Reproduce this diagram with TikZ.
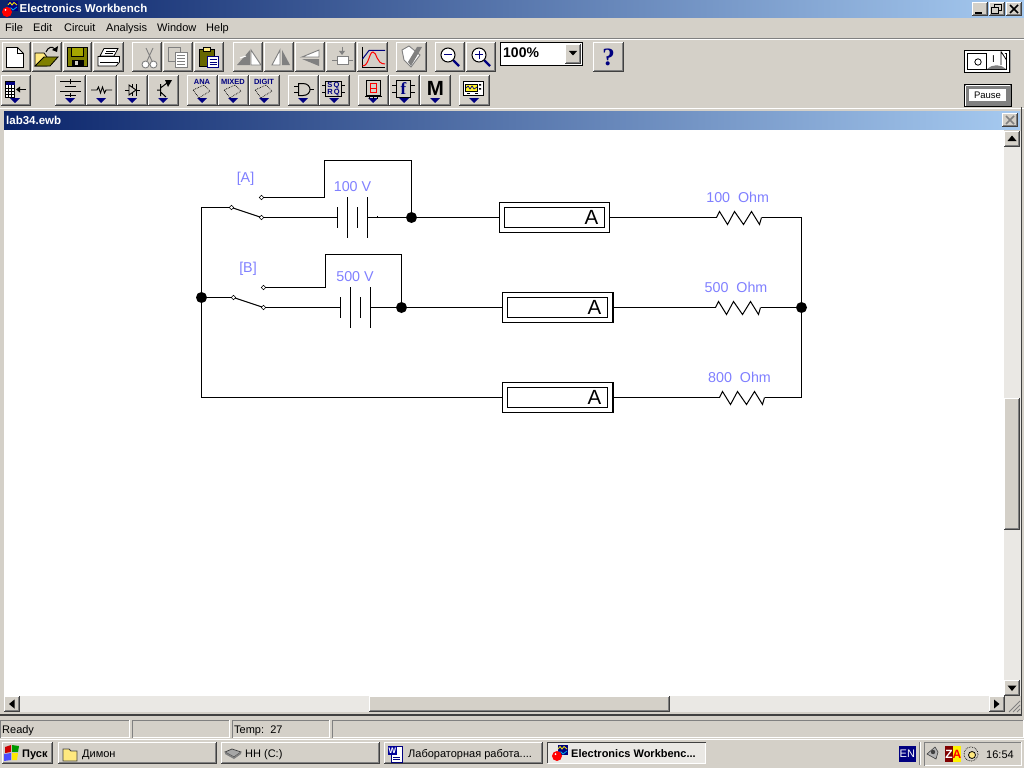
\documentclass[tikz,border=0pt]{standalone}
\usepackage{fontspec}
\setmainfont{Liberation Sans}
\newfontfamily\uiserif{Liberation Serif}
\usetikzlibrary{shapes.geometric}
\definecolor{uibg}{HTML}{D4D0C8}
\definecolor{uidark}{HTML}{404040}
\definecolor{uigray}{HTML}{808080}
\definecolor{uitrack}{HTML}{EAE8E4}
\definecolor{barL}{HTML}{0A246A}
\definecolor{barR}{HTML}{A6CAF0}
\definecolor{labelblue}{HTML}{8080FF}
\definecolor{uinavy}{HTML}{000080}
\definecolor{uiolive}{HTML}{808000}
\definecolor{uiyellow}{HTML}{FFE97F}
\tikzset{
  uitext/.style={inner sep=0pt,anchor=base west,text=black,font=\fontsize{11}{13}\selectfont},
  uibold/.style={uitext,font=\fontsize{11}{13}\selectfont\bfseries},
  titletext/.style={inner sep=0pt,anchor=base west,text=white,font=\fontsize{11.5}{13}\selectfont\bfseries},
  cirlabel/.style={inner sep=0pt,text=labelblue,font=\fontsize{14.3}{16}\selectfont},
  wire/.style={draw=black,line width=1pt},
  junction/.style={circle,fill=black,draw=none,minimum size=11pt,inner sep=0pt,outer sep=0pt},
  contact/.style={diamond,fill=white,draw=black,line width=.6pt,minimum size=4.5pt,inner sep=0pt,outer sep=0pt},
  ammeter/.style={rectangle,draw=black,fill=white,line width=1pt,minimum width=110pt,minimum height=30pt,inner sep=0pt,outer sep=0pt},
  iconline/.style={draw=black,line width=.8pt},
  greyicon/.style={draw=uigray,line width=.9pt},
  smallnavy/.style={inner sep=0pt,text=uinavy,font=\fontsize{7.5}{8}\selectfont\bfseries},
}
\newcommand{\uibtn}[4]{%
  \fill[uibg] (#1,#2) rectangle (#3,#4);
  \draw[white,line width=1pt] ({#1+.5},#4) -- ({#1+.5},{#2+.5}) -- (#3,{#2+.5});
  \draw[uidark,line width=1pt] (#1,{#4-.5}) -- ({#3-.5},{#4-.5}) -- ({#3-.5},#2);
  \draw[uigray,line width=1pt] ({#1+1},{#4-1.5}) -- ({#3-1.5},{#4-1.5}) -- ({#3-1.5},{#2+1});
}
\newcommand{\uipanel}[4]{%
  \draw[uigray,line width=1pt] ({#1+.5},{#4-.5}) -- ({#1+.5},{#2+.5}) -- ({#3-.5},{#2+.5});
  \draw[white,line width=1pt] ({#1+.5},{#4-.5}) -- ({#3-.5},{#4-.5}) -- ({#3-.5},#2);
}
\newcommand{\droptri}[1]{\fill[uinavy] ({#1-5},98) -- ({#1+5},98) -- (#1,103) -- cycle;}
\newcommand{\ewicon}[2]{%
  \begin{scope}[shift={(#1,#2)}]
    \fill[uinavy] (6,0) rectangle (16,10);
    \draw[yellow,line width=.8pt] (6,4) -- (8,1.5) -- (10,4) -- (12,1.5) -- (15,4);
    \draw[cyan,line width=.8pt] (6,7) -- (9,7) -- (11,9) -- (15,6);
    \fill[red] (5,11) circle (5);
    \fill[white] (3.5,9) circle (1);
  \end{scope}
}
\newcommand{\zigzag}[1]{\draw[wire] (#1) -- ++(3,-6) -- ++(8,13) -- ++(7,-13) -- ++(9,13) -- ++(8,-13) -- ++(8,13) -- ++(2,-7);}
\newcommand{\lens}[3]{%
  \draw[uinavy,line width=2.4pt] ({#1+5},{#2+5}) -- ({#1+11},{#2+11});
  \draw[black,line width=1pt,fill=white] (#1,#2) circle (7);
  #3
}
\begin{document}
\begin{tikzpicture}[x=1pt,y=-1pt]
\useasboundingbox (0,0) rectangle (1024,768);
\fill[uibg] (0,0) rectangle (1024,768);
% ---- title bar
\shade[left color=barL,right color=barR] (0,0) rectangle (1024,18);
\ewicon{2}{1}
\node[titletext] (apptitle) at (19.5,13) {Electronics Workbench};
\uibtn{972}{2}{988}{16}
\uibtn{989}{2}{1005}{16}
\uibtn{1006}{2}{1022}{16}
\fill[black] (975,12) rectangle (982,14);
\draw[black,line width=1pt] (994.5,4.5) rectangle (1001.5,10.5);
\fill[uibg,draw=black,line width=1pt] (991.5,7.5) rectangle (998.5,13.5);
\draw[black,line width=1.6pt] (1010,5) -- (1018,13) (1018,5) -- (1010,13);
% ---- menu
\node[uitext] (mfile) at (5,32) {File};
\node[uitext] (medit) at (33,32) {Edit};
\node[uitext] (mcirc) at (64,32) {Circuit};
\node[uitext] (manal) at (106,32) {Analysis};
\node[uitext] (mwin) at (157,32) {Window};
\node[uitext] (mhelp) at (206,32) {Help};
\draw[uigray,line width=1pt] (0,38.5) -- (1024,38.5);
\draw[white,line width=1pt] (0,39.5) -- (1024,39.5);
% ---- toolbar row 1
\foreach \a/\b in {2/31,32/62,63/92,93/124,132/162,163/193,194/224,233/263,264/294,295/325,326/356,357/388,396/427,435/465,466/496,593/624}{\uibtn{\a}{42}{\b}{72}}
% new
\draw[iconline,fill=white] (6.5,47.5) -- (17.5,47.5) -- (23.5,53.5) -- (23.5,67.5) -- (6.5,67.5) -- cycle;
\draw[iconline] (17.5,47.5) -- (17.5,53.5) -- (23.5,53.5);
% open
\fill[uiyellow,draw=black,line width=.8pt] (35,66) -- (35,53) -- (44,53) -- (47,57) -- (47,66) -- cycle;
\fill[uiolive,draw=black,line width=.8pt] (35,66) -- (44,57) -- (58,57) -- (50,66) -- cycle;
\draw[black,line width=1pt] (46,52) .. controls (48,47) and (52,46) .. (55,49);
\fill[black] (52,50) -- (58,46) -- (57,52) -- cycle;
% save
\fill[uiolive,draw=black,line width=1pt] (67.5,47.5) rectangle (87.5,66.5);
\fill[uiolive!70!yellow,draw=black,line width=.7pt] (71.5,47.5) rectangle (83.5,56.5);
\fill[black] (72,60) rectangle (84,66);
\fill[uibg] (75,61) rectangle (78,65);
% print
\fill[white,draw=black,line width=.8pt] (104,48.5) -- (118,48.5) -- (114,56) -- (100,56) -- cycle;
\fill[white,draw=black,line width=.8pt] (98,56.5) -- (119.5,56.5) -- (119.5,62) -- (116,66) -- (98,66) -- cycle;
\draw[black,line width=.7pt] (106,51) -- (115,51) (105,53.5) -- (113,53.5) (100,62) -- (118,62);
% cut
\draw[greyicon] (146,48) -- (152,61) (153,48) -- (147,61);
\draw[greyicon,fill=white] (145.5,64.5) circle (3.5) (153.5,64.5) circle (3.5);
% copy
\draw[greyicon,fill=uibg] (168,47.5) rectangle (180,61);
\draw[greyicon,fill=white] (175,52.5) rectangle (187,67);
\draw[uigray,line width=.7pt] (177,55.5) -- (185,55.5) (177,58.5) -- (185,58.5) (177,61.5) -- (185,61.5) (177,64.5) -- (185,64.5);
% paste
\fill[uiolive!80!black,draw=black,line width=.8pt] (199.5,49.5) rectangle (214.5,66);
\fill[uiyellow,draw=black,line width=.7pt] (203.5,47.5) rectangle (210.5,51.5);
\fill[white,draw=uinavy,line width=.8pt] (207.5,56.5) rectangle (218.5,67.5);
\draw[uinavy,line width=.7pt] (209.5,59.5) -- (216.5,59.5) (209.5,62) -- (216.5,62) (209.5,64.5) -- (216.5,64.5);
% rotate
\fill[uigray] (237,65) -- (250,65) -- (250,50) -- cycle;
\draw[greyicon,fill=white] (251,50) -- (251,65) -- (261,65) -- cycle;
\draw[white,line width=1pt] (240,58) -- (246,56);
% flip h
\draw[greyicon,fill=white] (280,50) -- (280,65) -- (272,65) -- cycle;
\fill[uigray] (282,50) -- (282,65) -- (290,65) -- cycle;
% flip v
\draw[greyicon,fill=white] (319,50) -- (319,57) -- (302,57) -- cycle;
\fill[uigray] (319,59) -- (319,66) -- (302,59) -- cycle;
% subcircuit
\draw[greyicon,fill=white] (337.5,56) rectangle (348,64);
\draw[greyicon] (332,60) -- (337,60) (348,60) -- (353,60) (342,47) -- (342,54);
\fill[uigray] (339,51) -- (345,51) -- (342,55) -- cycle;
% graph
\draw[black,line width=1pt] (362.5,47) -- (362.5,67.5) -- (385,67.5);
\draw[uinavy,line width=1pt] (362.5,59) -- (369,50.5) -- (385,50.5);
\draw[red,line width=1pt] (362.5,66) .. controls (369,66) and (369,52) .. (373,52) .. controls (377,52) and (376,64) .. (385,64);
% check
\draw[greyicon,fill=white] (402,50) -- (409,46) -- (420,55) -- (411,67) -- (404,60) -- cycle;
\fill[uigray] (408,62) -- (417,47) -- (422,47) -- (411,66) -- cycle;
% zoom
\lens{448}{55}{\draw[uinavy,line width=1pt] (444,55) -- (452,55);}
\lens{479}{55}{\draw[uinavy,line width=1pt] (475,55) -- (483,55) (479,51) -- (479,59);}
% combo
\fill[white,draw=black,line width=1pt] (500.5,42.5) rectangle (582.5,65.5);
\node[uitext,font=\fontsize{14}{16}\selectfont\bfseries] (zoomtxt) at (503,58) {100\%};
\uibtn{565}{44}{581}{64}
\fill[black] (569,51) -- (577,51) -- (573,55.5) -- cycle;
% help
\node[inner sep=0pt,text=uinavy,font=\uiserif\fontsize{25}{27}\selectfont\bfseries] (helpq) at (608.5,57) {?};
% ---- toolbar row 2
\foreach \a/\b in {1/31,55/86,86/117,117/148,148/179,187/218,218/249,249/280,288/319,319/350,358/389,389/420,420/451,459/490}{\uibtn{\a}{75}{\b}{106}}
\foreach \c in {15,70,101,132,163,202,233,264,303,334,373,404,435,474}{\droptri{\c}}
% parts bin
\fill[white,draw=black,line width=.8pt] (5.5,81.5) rectangle (14.5,97.5);
\fill[uinavy] (5.5,81.5) rectangle (14.5,85);
\draw[black,line width=.6pt] (8.5,85) -- (8.5,97.5) (11.5,85) -- (11.5,97.5) (5.5,88) -- (14.5,88) (5.5,91) -- (14.5,91) (5.5,94) -- (14.5,94);
\draw[black,line width=1pt] (17,89.5) -- (26,89.5);
\fill[black] (16,89.5) -- (20,86.5) -- (20,92.5) -- cycle;
% sources
\draw[black,line width=1pt] (70,79) -- (70,84) (70,93) -- (70,97) (60,81.5) -- (81,81.5) (65,86.5) -- (76,86.5) (60,91.5) -- (81,91.5) (65,95.5) -- (76,95.5);
% basic
\draw[black,line width=.9pt] (91,90) -- (97,90) -- (98.5,87) -- (100.5,93) -- (102.5,87) -- (104.5,93) -- (106,90) -- (112,90);
% diodes
\draw[black,line width=.9pt] (132.5,84) -- (132.5,96) (125,90) -- (129,90) (136,90) -- (140,90) (136.5,84) -- (136.5,96);
\draw[black,line width=.9pt,fill=uibg] (129,85) -- (136,90) -- (129,95) -- cycle;
% transistors
\draw[black,line width=1pt] (160.5,84) -- (160.5,96) (157,90) -- (160.5,90) (160.5,88) -- (167,83) (160.5,92) -- (166,97);
\fill[black] (165,80) -- (172,80) -- (168,87) -- cycle;
% ANA MIXED DIGIT
\node[smallnavy] (ana) at (202,81.5) {ANA};
\node[smallnavy] (mixed) at (233,81.5) {MIXED};
\node[smallnavy] (digit) at (264,81.5) {DIGIT};
\foreach \c in {201,232,263}{\draw[black,line width=.7pt,densely dotted] (\c+3,85) -- (\c+9,91) -- (\c-2,98) -- (\c-8,90) -- cycle;}
% gate
\draw[black,line width=1pt] (298.5,83.5) -- (303,83.5) .. controls (308,83.5) and (310,87) .. (310,89.5) .. controls (310,92) and (308,95.5) .. (303,95.5) -- (298.5,95.5) -- cycle;
\draw[black,line width=1pt] (294,86.5) -- (298.5,86.5) (294,92.5) -- (298.5,92.5) (310,89.5) -- (314,89.5);
% flip-flop
\draw[black,line width=1pt] (325.5,81.5) rectangle (341.5,96.5);
\draw[black,line width=1pt] (322,85.5) -- (325,85.5) (322,92.5) -- (325,92.5) (342,85.5) -- (345,85.5) (342,92.5) -- (345,92.5);
\node[inner sep=0pt,text=uinavy,font=\fontsize{7.5}{8}\selectfont\bfseries] (ffa) at (333.5,85.5) {S\,Q};
\node[inner sep=0pt,text=uinavy,font=\fontsize{7.5}{8}\selectfont\bfseries] (ffb) at (333.5,92.5) {R\,Q};
% seven-seg
\draw[black,line width=1pt,fill=uibg] (366.5,80.5) rectangle (380.5,95.5);
\draw[red,line width=1pt] (370.5,83.5) rectangle (376.5,92.5) (370.5,88) -- (376.5,88);
\draw[black,line width=1pt] (365,96.5) -- (382,96.5) (369,97) -- (369,99) (373,97) -- (373,99) (377,97) -- (377,99);
% f
\draw[black,line width=1pt,fill=uibg] (396.5,80.5) rectangle (410.5,97.5);
\draw[black,line width=1pt] (392,85.5) -- (396,85.5) (392,92.5) -- (396,92.5) (411,85.5) -- (415,85.5) (411,92.5) -- (415,92.5);
\node[inner sep=0pt,text=uinavy,font=\uiserif\fontsize{17}{18}\selectfont\bfseries] (ficon) at (403.5,89) {f};
% M
\node[inner sep=0pt,text=black,font=\fontsize{20.5}{22}\selectfont\bfseries] (micon) at (435.5,88) {M};
% instruments
\draw[black,line width=1pt,fill=white] (463.5,81.5) rectangle (483.5,95.5);
\fill[yellow!85!white,draw=black,line width=.6pt] (465.5,84) rectangle (477,91.5);
\draw[uinavy,line width=.7pt] (466,88) -- (468,86) -- (470,89) -- (472,86) -- (474,89) -- (477,87);
\fill[black] (479,84) rectangle (481,85.5) (479,88) rectangle (481,89.5);
\draw[black,line width=.8pt] (467,93.5) -- (470,93.5) (475,93.5) -- (478,93.5);
% power switch
\fill[uigray!70!uibg] (964,50) rectangle (1011,73);
\fill[white,draw=black,line width=1pt] (964.5,50.5) rectangle (1009.5,72.5);
\draw[black,line width=1pt] (967.5,53.5) rectangle (1006.5,69.5);
\draw[black,line width=.8pt] (978,62) circle (3.2);
\draw[black,line width=1pt] (986,53.5) -- (986,69.5);
\fill[white] (987,53) -- (1001,51.5) -- (1005,53.5) -- (1005,68) -- (987,68) -- cycle;
\fill[uigray] (987,69) .. controls (992,64) and (1001,64) .. (1006,69) -- cycle;
\draw[black,line width=.8pt] (1001,51.5) -- (1006.5,60) -- (1006.5,69) (1001,51.5) -- (1001,65);
\node[inner sep=0pt,font=\fontsize{10}{11}\selectfont] (powI) at (993.5,59) {I};
% pause
\fill[uigray] (964,84) rectangle (1011.5,107);
\draw[black,line width=1pt] (964.5,84.5) rectangle (1011,106.5);
\draw[white,line width=1pt] (965.5,85.5) -- (1010,85.5) (965.5,85.5) -- (965.5,105.5);
\fill[white] (969,89) rectangle (1006,101);
\node[inner sep=0pt,font=\fontsize{9.5}{11}\selectfont] (pause) at (987.5,95) {Pause};
% separators
\draw[white,line width=1pt] (0,108.5) -- (1024,108.5);
% ---- child window
\fill[white] (4,130) rectangle (1004,696);
\shade[left color=barL,right color=barR] (4,111) rectangle (1020,129);
\node[titletext] (childtitle) at (6,124) {lab34.ewb};
\uibtn{1002}{113}{1018}{127}
\draw[uigray,line width=1.5pt] (1006,116) -- (1014,124) (1014,116) -- (1006,124);
\draw[uidark,line width=1.5pt] (1021.5,107) -- (1021.5,715);
\draw[uidark,line width=1.5pt] (0,715) -- (1022,715);
% scrollbars
\fill[uitrack] (1004,131) rectangle (1021,696);
\fill[uitrack] (4,696) rectangle (1004,712);
\uibtn{1004}{131}{1020}{147}
\fill[black] (1012,135.5) -- (1016.5,141) -- (1007.5,141) -- cycle;
\uibtn{1004}{680}{1020}{696}
\fill[black] (1012,691) -- (1016.5,685.5) -- (1007.5,685.5) -- cycle;
\uibtn{1004}{398}{1020}{530}
\uibtn{4}{696}{20}{712}
\fill[black] (9,704) -- (14.5,699.5) -- (14.5,708.5) -- cycle;
\uibtn{989}{696}{1005}{712}
\fill[black] (999.5,704) -- (994,699.5) -- (994,708.5) -- cycle;
\uibtn{369}{696}{670}{712}
\fill[uibg] (1005,696) rectangle (1021,714);
\draw[uigray,line width=1pt] (1009,712) -- (1020,701) (1013,712) -- (1020,705) (1017,712) -- (1020,709);
% ---- circuit
\node[junction] (jl) at (201.5,297.5) {};
\node[junction] (ja) at (411.5,217.5) {};
\node[junction] (jb) at (401.5,307.5) {};
\node[junction] (jr) at (801.5,307.5) {};
\node[ammeter] (am1) at (554.5,217.5) {};
\node[ammeter] (am2) at (557.5,307.5) {};
\node[ammeter] (am3) at (557.5,397.5) {};
\foreach \n in {am1,am2,am3}{
  \draw[black,line width=1pt] ([shift={(5,-5)}]\n.south west) rectangle ([shift={(-5,5)}]\n.north east);
  \node[inner sep=0pt,font=\fontsize{20.5}{22}\selectfont] (\n lab) at ([xshift=37]\n.center) {A};
}
\foreach \n in {am2,am3}{\draw[black,line width=1pt] ([xshift=1,yshift=-.5]\n.south east) -- ([xshift=1,yshift=.5]\n.north east);}
% corners and component ends
\coordinate (tl) at (201.5,207.5);
\coordinate (bl) at (201.5,397.5);
\coordinate (tr) at (801.5,217.5);
\coordinate (br) at (801.5,397.5);
\node[contact] (pa) at (231.5,207.5) {};
\node[contact] (la) at (261.5,217.5) {};
\node[contact] (ua) at (261.5,197.5) {};
\node[contact] (pb) at (233.5,297.5) {};
\node[contact] (lb) at (263.5,307.5) {};
\node[contact] (ub) at (263.5,287.5) {};
\coordinate (a1) at (324.5,197.5);
\coordinate (a2) at (324.5,160.5);
\coordinate (a3) at (411.5,160.5);
\coordinate (b1) at (325.5,287.5);
\coordinate (b2) at (325.5,254.5);
\coordinate (b3) at (401.5,254.5);
\coordinate (ca) at (337.5,217.5);
\coordinate (aa) at (367.5,217.5);
\coordinate (cb) at (340.5,307.5);
\coordinate (ab) at (370.5,307.5);
\coordinate (r1a) at (716.5,217.5);
\coordinate (r1b) at (761.5,217.5);
\coordinate (r2a) at (715.5,307.5);
\coordinate (r2b) at (760.5,307.5);
\coordinate (r3a) at (719.5,397.5);
\coordinate (r3b) at (764.5,397.5);
% connectors
\draw[wire] (jl) -- (tl) -- (pa);
\draw[wire] (jl) -- (pb);
\draw[wire] (jl) -- (bl) -- (am3);
\draw[wire] (pa) -- (la);
\draw[wire] (pb) -- (lb);
\draw[wire] (ua) -- (a1) -- (a2) -- (a3) -- (ja);
\draw[wire] (ub) -- (b1) -- (b2) -- (b3) -- (jb);
\draw[wire] (la) -- (ca);
\draw[wire] (lb) -- (cb);
\draw[wire] (aa) -- (ja);
\draw[wire] (ab) -- (jb);
\draw[wire] (ja) -- (am1);
\draw[wire] (jb) -- (am2);
\draw[wire] (am1) -- (r1a);
\draw[wire] (am2) -- (r2a);
\draw[wire] (am3) -- (r3a);
\draw[wire] (r1b) -- (tr) -- (jr);
\draw[wire] (r2b) -- (jr);
\draw[wire] (r3b) -- (br) -- (jr);
\zigzag{r1a}
\zigzag{r2a}
\zigzag{r3a}
% batteries
\draw[wire] (337.5,207) -- (337.5,228) (347.5,197) -- (347.5,238) (357.5,207) -- (357.5,228) (367.5,197) -- (367.5,238);
\draw[wire] (340.5,297) -- (340.5,318) (350.5,287) -- (350.5,328) (360.5,297) -- (360.5,318) (370.5,287) -- (370.5,328);
\fill[black] (377,216) rectangle (378,217);
% labels
\node[cirlabel] (lA) at (245.5,179) {[A]};
\node[cirlabel] (lB) at (248,269) {[B]};
\node[cirlabel] (v1) at (352.5,186.5) {100 V};
\node[cirlabel] (v2) at (355,276.5) {500 V};
\node[cirlabel] (o1) at (737.7,197) {100\ \ Ohm};
\node[cirlabel] (o2) at (736,287) {500\ \ Ohm};
\node[cirlabel] (o3) at (739.5,377) {800\ \ Ohm};
% ---- status bar
\uipanel{0}{720}{130}{738}
\uipanel{132}{720}{230}{738}
\uipanel{232}{720}{330}{738}
\uipanel{332}{720}{1024}{738}
\node[uitext] (ready) at (2,733) {Ready};
\node[uitext] (temp) at (234,733) {Temp:\ \ 27};
% ---- taskbar
\draw[white,line width=1pt] (0,739.5) -- (1024,739.5);
\uibtn{2}{742}{53}{764}
% start flag
\fill[red!80!black] (5,747) -- (11,745) -- (11,752) -- (5,753) -- cycle;
\fill[green!60!black] (12,745) -- (19,746) -- (18,752) -- (12,752) -- cycle;
\fill[blue!70!white] (4,754) -- (11,753) -- (11,760) -- (4,761) -- cycle;
\fill[yellow!90!orange] (12,753) -- (18,753) -- (17,760) -- (12,760) -- cycle;
\node[uibold] (start) at (22,757) {Пуск};
\uibtn{58}{742}{217}{764}
\uibtn{221}{742}{380}{764}
\uibtn{384}{742}{543}{764}
\fill[uitrack] (547,742) rectangle (706,764);
\draw[uidark,line width=1pt] (547.5,763) -- (547.5,742.5) -- (706,742.5);
\draw[white,line width=1pt] (547.5,763.5) -- (705.5,763.5) -- (705.5,743);
% folder
\fill[uiyellow,draw=uidark,line width=.8pt] (63,749) -- (69,749) -- (71,751) -- (77,751) -- (77,761) -- (63,761) -- cycle;
\node[uitext] (tb1) at (82,757) {Димон};
% drive
\fill[uigray!70!white,draw=uidark,line width=.7pt] (225,752) -- (232,749) -- (241,752) -- (234,757) -- cycle;
\fill[uigray] (225,752) -- (234,757) -- (241,752) -- (241,754) -- (234,759) -- (225,754) -- cycle;
\node[uitext] (tb2) at (245,757) {НН (C:)};
% word
\fill[white,draw=uinavy,line width=.8pt] (391,746) -- (402,746) -- (402,762) -- (391,762) -- cycle;
\fill[blue!60!black] (388,746) rectangle (397,755);
\node[inner sep=0pt,text=white,font=\fontsize{8}{9}\selectfont\bfseries] (wicon) at (392.5,750.5) {W};
\draw[uinavy,line width=.6pt] (393,757) -- (400,757) (393,759.5) -- (400,759.5);
\node[uitext] (tb3) at (408,757) {Лабораторная работа....};
% ew task
\ewicon{552}{745}
\node[uibold] (tb4) at (571,757) {Electronics Workbenc...};
% tray
\fill[uinavy] (899,746) rectangle (915.5,762);
\node[inner sep=0pt,text=white,font=\fontsize{11}{12}\selectfont] (en) at (907.3,754) {EN};
\draw[uigray,line width=1pt] (919.5,742) -- (919.5,765);
\draw[white,line width=1pt] (920.5,742) -- (920.5,765);
\uipanel{924}{742}{1022}{766}
\fill[uigray!60!white,draw=uidark,line width=.6pt] (927,754) -- (935,747) -- (938,752) -- (936,759) -- cycle;
\fill[uidark] (933,752) circle (2.2);
\fill[red!50!black] (945,746) rectangle (953,762);
\fill[yellow] (953,746) rectangle (961,762);
\node[inner sep=0pt,text=white,font=\fontsize{12}{13}\selectfont\bfseries] (zaZ) at (949,754) {Z};
\node[inner sep=0pt,text=red,font=\fontsize{12}{13}\selectfont\bfseries] (zaA) at (957,754) {A};
\draw[black,line width=.7pt,densely dotted] (971,754) circle (7);
\draw[black,line width=.8pt,fill=uiyellow] (972,755) circle (3.5);
\node[uitext] (clock) at (986,758) {16:54};
\end{tikzpicture}
\end{document}
